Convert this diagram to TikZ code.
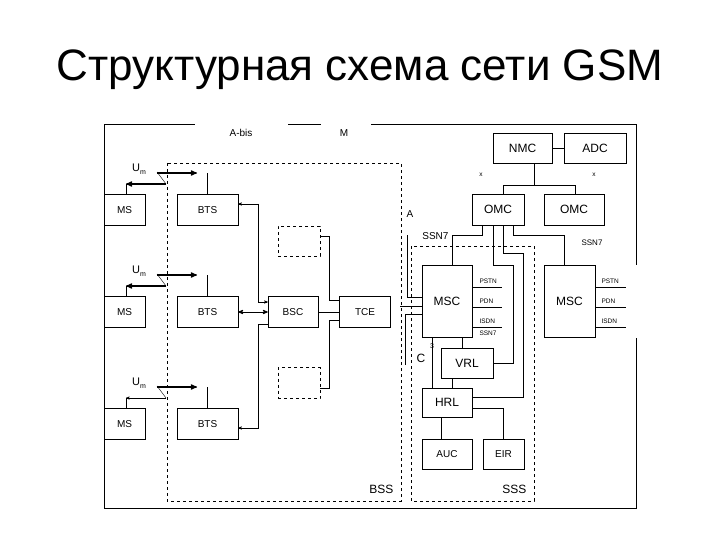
\documentclass[tikz,border=0pt]{standalone}
\usepackage{fontspec}
\setmainfont{Liberation Sans}
\usetikzlibrary{arrows}

\begin{document}
\begin{tikzpicture}
    [ x=1pt, y=-1pt,
      font={\fontsize{10}{11}\selectfont},
      box/.style={draw, inner sep=0pt},
      area/.style={draw, dashed},
      tiny/.style={font={\fontsize{6.5}{7}\selectfont}},
      radio/.style={very thick,->,>=stealth'},
      link/.style={->,>=stealth'},
      wire/.style={draw}
    ]
    \useasboundingbox (0,0) rectangle (720,540);
    \node (title) at (360,70) {\fontsize{44}{46}\selectfont Структурная схема сети GSM};

    % Frame
    \draw (104,124) -- (195,124);
    \draw (288,124) -- (321,124);
    \draw (371,124) -- (636,124) -- (636,265);
    \draw (636,338) -- (636,508) -- (104,508) -- (104,124);
    \node (abis) at (241,133) {A-bis};
    \node (m) at (344,133) {M};

    % Subsystems
    \draw[area] (167,163) rectangle (401,501);
    \draw[area] (411,246) rectangle (534,501);
    \node[anchor=south east] (bss) at (397,497) {\fontsize{12}{13}\selectfont BSS};
    \node[anchor=south east] (sss) at (530,497) {\fontsize{12}{13}\selectfont SSS};

    % Mobile stations and base stations
    \foreach \n/\y in {1/210, 2/312, 3/424} {
        \node[box, minimum width=41, minimum height=31] (ms\n) at (124.5,\y) {MS};
        \node[box, minimum width=61, minimum height=31] (bts\n) at (207.5,\y) {BTS};
        \node (um\n) at (139,\y-41) {\fontsize{11}{12}\selectfont U\raisebox{-.6ex}{\fontsize{7}{7}\selectfont m}};
        \coordinate (ant\n) at (166,\y-26);
        \draw (157,\y-38) -- (ant\n);
        \draw[radio] (157,\y-37) -- (197,\y-37);
        \draw (bts\n.north) -- (207.5,\y-37);
        \draw (ms\n.north -| 126,0) -- (126,\y-26);
    }
    \draw[radio] (ant1) -- (126,184);
    \draw[radio] (ant2) -- (126,286);
    \draw[link] (ant3) -- (126,398);

    % Base station controller
    \node[box, minimum width=50, minimum height=31] (bsc) at (293,312) {BSC};
    \node[box, minimum width=51, minimum height=31] (tce) at (365,312) {TCE};
    \node[box, dashed, minimum width=42, minimum height=30] (om1) at (299,241) {};
    \node[box, dashed, minimum width=42, minimum height=31] (om2) at (299,383) {};
    \draw[link] (258,302) -- (258,204) -- (bts1.east |- 0,204);
    \draw[link] (258,204) |- (bsc.west |- 0,302);
    \draw[<->,>=stealth',thick] (bts2.east) -- (bsc.west);
    \draw[link] (bsc.west |- 0,324) -| (258,428) -- (bts3.east |- 0,428);
    \draw (bsc.east) -- (tce.west);
    \draw (om1.east |- 0,236) -| (329,300) -- (tce.west |- 0,300);
    \draw (om2.east |- 0,388) -| (329,320) -- (tce.west |- 0,320);

    % Switching subsystem
    \node[box, minimum width=50, minimum height=72] (msc1) at (447,301) {\fontsize{12}{13}\selectfont MSC};
    \node[box, minimum width=51, minimum height=72] (msc2) at (569.5,301) {\fontsize{12}{13}\selectfont MSC};
    \node[box, minimum width=52, minimum height=30] (vrl) at (467,363) {\fontsize{12}{13}\selectfont VRL};
    \node[box, minimum width=50, minimum height=29] (hrl) at (447,402.5) {\fontsize{12}{13}\selectfont HRL};
    \node[box, minimum width=50, minimum height=30] (auc) at (447,454) {AUC};
    \node[box, minimum width=41, minimum height=30] (eir) at (503.5,454) {EIR};
    \node[box, minimum width=52, minimum height=31] (omc1) at (498,209.5) {\fontsize{12}{13}\selectfont OMC};
    \node[box, minimum width=60, minimum height=31] (omc2) at (574,209.5) {\fontsize{12}{13}\selectfont OMC};
    \node[box, minimum width=59, minimum height=30] (nmc) at (522.5,148) {\fontsize{12}{13}\selectfont NMC};
    \node[box, minimum width=62, minimum height=30] (adc) at (595,148) {\fontsize{12}{13}\selectfont ADC};
    \draw (nmc) -- (adc);
    \draw (nmc.south -| 534,0) -- (534,185);
    \draw (omc1.north -| 503,0) |- (575,185) -- (omc2.north -| 575,0);
    \node[tiny] (x1) at (481,175) {x};
    \node[tiny] (x2) at (594,175) {x};

    % Interfaces of the switching centres
    \draw (msc1.north -| 452,0) |- (482,235) -- (omc1.south -| 482,0);
    \draw (omc1.south -| 493,0) |- (513,265) |- (vrl.east);
    \draw (omc1.south -| 503,0) |- (523,253) |- (hrl.east |- 0,397);
    \draw (omc1.south -| 513,0) |- (564,235) -- (msc2.north -| 564,0);
    \node[anchor=east] (ssn1) at (452,236) {SSN7};
    \node[anchor=east] (ssn2) at (606,243) {\fontsize{8}{9}\selectfont SSN7};
    \foreach \y/\t in {287/PSTN, 307/PDN, 327/ISDN} {
        \draw (msc1.east |- 0,\y) -- (502,\y);
        \node[tiny, anchor=south west] at (476,\y) {\t};
        \draw (msc2.east |- 0,\y) -- (626,\y);
        \node[tiny, anchor=south west] at (598,\y) {\t};
    }
    \node[tiny, anchor=north west] (ssn3) at (476,327) {SSN7};
    \draw (msc1.south -| 462,0) -- (vrl.north -| 462,0);
    \draw (msc1.south -| 432,0) -- (hrl.north -| 432,0);
    \draw (vrl.south -| 452,0) -- (hrl.north -| 452,0);
    \draw (hrl.south -| 441,0) -- (auc.north -| 441,0);
    \draw (hrl.east |- 0,408) -| (eir.north -| 503,0);
    \node (c) at (421,358) {\fontsize{12}{13}\selectfont C};
    \node[anchor=west, inner sep=0pt, font={\fontsize{7}{7}\selectfont}] (three) at (430,346) {3};

    % A interface
    \node (a) at (410,214) {A};
    \draw (407,235) -- (407,297) -- (msc1.west |- 0,297);
    \draw (400,306) -- (msc1.west |- 0,306);
    \draw (405,365) -- (405,314) -- (msc1.west |- 0,314);
\end{tikzpicture}
\end{document}
